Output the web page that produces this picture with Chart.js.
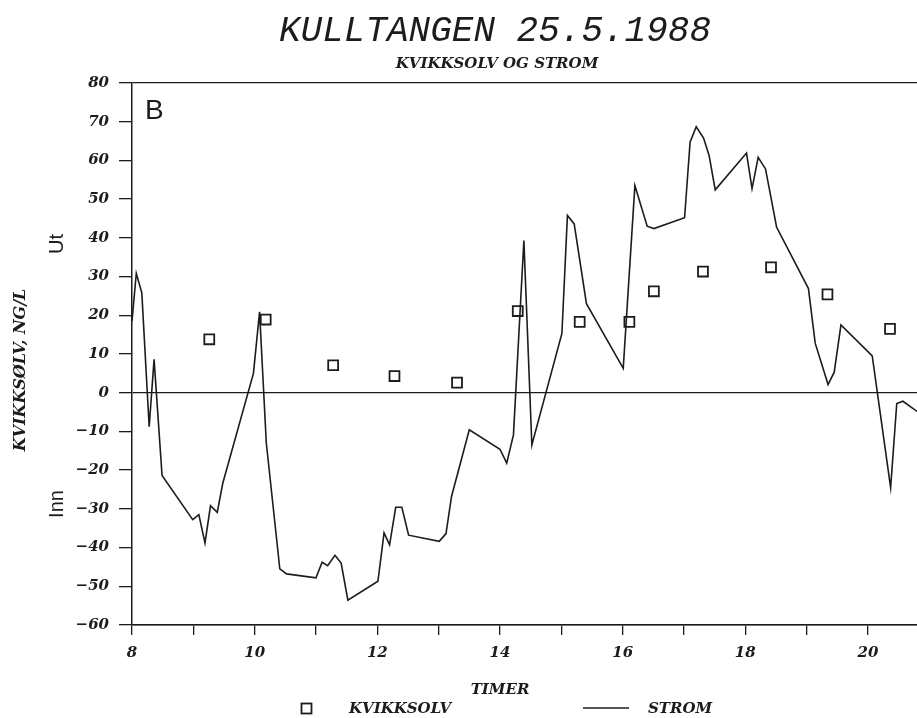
<!DOCTYPE html>
<html>
<head>
<meta charset="utf-8">
<script src="https://cdn.jsdelivr.net/npm/chart.js@4.4.0/dist/chart.umd.min.js"></script>
<style>
  html, body { margin: 0; padding: 0; background: #fff; overflow: hidden; }
  #kullChart { display: block; }
</style>
</head>
<body>
<canvas id="kullChart" width="917" height="718"></canvas>
<script>
// STROM (linje) - timer og verdier lest av figuren
const stromTimer = [8.00, 8.07, 8.16, 8.28, 8.36, 8.49, 8.99, 9.09, 9.19, 9.28, 9.39, 9.48,
  9.98, 10.08, 10.19, 10.41, 10.52, 11.00, 11.10, 11.19, 11.31, 11.41, 11.52,
  12.01, 12.11, 12.20, 12.30, 12.40, 12.51, 13.01, 13.12, 13.21, 13.50,
  14.00, 14.11, 14.22, 14.39, 14.52, 15.01, 15.10, 15.21, 15.41,
  16.01, 16.20, 16.40, 16.51, 17.01, 17.10, 17.20, 17.32, 17.41, 17.51,
  18.02, 18.11, 18.21, 18.33, 18.51, 19.03, 19.14, 19.35, 19.45, 19.56,
  20.07, 20.37, 20.47, 20.57, 20.93];
const stromVerdi = [18.5, 30.8, 25.8, -8.8, 8.6, -21.4, -32.8, -31.5, -38.8, -29.2, -30.9, -23.4,
  5.0, 20.9, -13.0, -45.5, -46.8, -47.8, -43.8, -44.7, -42.0, -44.0, -53.6,
  -48.7, -36.2, -39.3, -29.6, -29.6, -36.8, -38.4, -36.4, -26.8, -9.6,
  -14.6, -18.2, -10.9, 39.3, -13.5, 15.3, 45.8, 43.6, 23.0,
  6.3, 53.5, 43.0, 42.4, 45.2, 64.7, 68.7, 65.8, 61.3, 52.4,
  61.9, 52.7, 60.8, 57.8, 42.8, 26.9, 12.8, 2.1, 5.3, 17.5,
  9.5, -24.5, -2.8, -2.2, -6.3];

// KVIKKSOLV (kvadrater)
const kvikkTimer = [9.26, 10.18, 11.28, 12.28, 13.30, 14.29, 15.30, 16.11, 16.51, 17.31, 18.42, 19.34, 20.36];
const kvikkVerdi = [13.8, 18.9, 7.1, 4.3, 2.6, 21.1, 18.3, 18.3, 26.2, 31.3, 32.4, 25.4, 16.5];

const xLabels = [8, 10, 12, 14, 16, 18, 20];

const ink = '#1c1c1c';
const tickFont = { family: '"DejaVu Serif"', size: 15, style: 'italic', weight: 'bold' };

// tekster som ikke er del av aksene
const tekstPlugin = {
  id: 'tekster',
  afterDraw(chart) {
    const ctx = chart.ctx;
    ctx.save();
    ctx.fillStyle = ink;
    ctx.strokeStyle = ink;
    ctx.textBaseline = 'middle';
    ctx.textAlign = 'center';

    ctx.font = 'italic 36px "Liberation Mono"';
    ctx.fillText('KULLTANGEN 25.5.1988', 495, 31);

    ctx.font = 'italic bold 15px "DejaVu Serif"';
    ctx.fillText('KVIKKSOLV OG STROM', 497, 64);
    ctx.fillText('TIMER', 500, 690);

    // legende
    ctx.lineWidth = 1.8;
    ctx.strokeRect(301.5, 703.5, 10, 10);
    ctx.textAlign = 'left';
    ctx.fillText('KVIKKSOLV', 349, 709);
    ctx.lineWidth = 1.5;
    ctx.beginPath();
    ctx.moveTo(583, 708);
    ctx.lineTo(629, 708);
    ctx.stroke();
    ctx.fillText('STROM', 648, 709);

    ctx.font = '28px "Liberation Sans"';
    ctx.fillText('B', 145, 111);

    // roterte tekster
    ctx.textAlign = 'center';
    ctx.save();
    ctx.translate(21, 370);
    ctx.rotate(-Math.PI / 2);
    ctx.font = 'italic bold 16px "DejaVu Serif"';
    ctx.fillText('KVIKKSØLV, NG/L', 0, 0);
    ctx.restore();

    ctx.font = '20px "Liberation Sans"';
    ctx.save();
    ctx.translate(57, 244);
    ctx.rotate(-Math.PI / 2);
    ctx.fillText('Ut', 0, 0);
    ctx.restore();
    ctx.save();
    ctx.translate(57, 504);
    ctx.rotate(-Math.PI / 2);
    ctx.fillText('Inn', 0, 0);
    ctx.restore();

    ctx.restore();
  }
};

const ctxK = document.getElementById('kullChart').getContext('2d');
const kullChart = new Chart(ctxK, {
  type: 'scatter',
  data: {
    datasets: [{
      label: 'KVIKKSOLV',
      data: kvikkTimer.map((t, i) => ({ x: t, y: kvikkVerdi[i] })),
      pointStyle: 'rect',
      pointRadius: 7,
      pointBorderWidth: 1.8,
      pointBorderColor: ink,
      pointBackgroundColor: 'rgba(0,0,0,0)',
      showLine: false
    }, {
      label: 'STROM',
      data: stromTimer.map((t, i) => ({ x: t, y: stromVerdi[i] })),
      showLine: true,
      borderColor: ink,
      borderWidth: 1.6,
      pointRadius: 0,
      tension: 0
    }]
  },
  options: {
    responsive: false,
    animation: false,
    layout: { autoPadding: false, padding: { top: 83, left: 0, right: 0, bottom: 0 } },
    plugins: {
      legend: { display: false },
      title: { display: false },
      tooltip: { enabled: false }
    },
    scales: {
      x: {
        type: 'linear',
        min: 8,
        max: 20.8,
        afterFit: (s) => { s.height = 93; s.paddingLeft = 0; s.paddingRight = 0; },
        ticks: {
          stepSize: 1,
          includeBounds: false,
          autoSkip: false,
          maxRotation: 0,
          padding: 9,
          color: ink,
          font: tickFont,
          callback: (v) => xLabels.includes(v) ? String(v) : ''
        },
        grid: { drawOnChartArea: false, tickLength: 10, tickColor: ink, lineWidth: 1.3 },
        border: { color: ink, width: 1.5 }
      },
      y: {
        min: -60,
        max: 80,
        afterFit: (s) => { s.width = 132; s.paddingTop = 0; s.paddingBottom = 0; },
        ticks: {
          stepSize: 10,
          padding: 10,
          color: ink,
          font: tickFont,
          callback: (v) => v < 0 ? '\u2212' + Math.abs(v) : String(v)
        },
        grid: {
          color: (c) => (c.tick && (c.tick.value === 0 || c.tick.value === 80 || c.tick.value === -60)) ? ink : 'rgba(0,0,0,0)',
          tickColor: ink,
          tickLength: 13,
          lineWidth: 1.3
        },
        border: { color: ink, width: 1.5 }
      }
    }
  },
  plugins: [tekstPlugin]
});
</script>
</body>
</html>
